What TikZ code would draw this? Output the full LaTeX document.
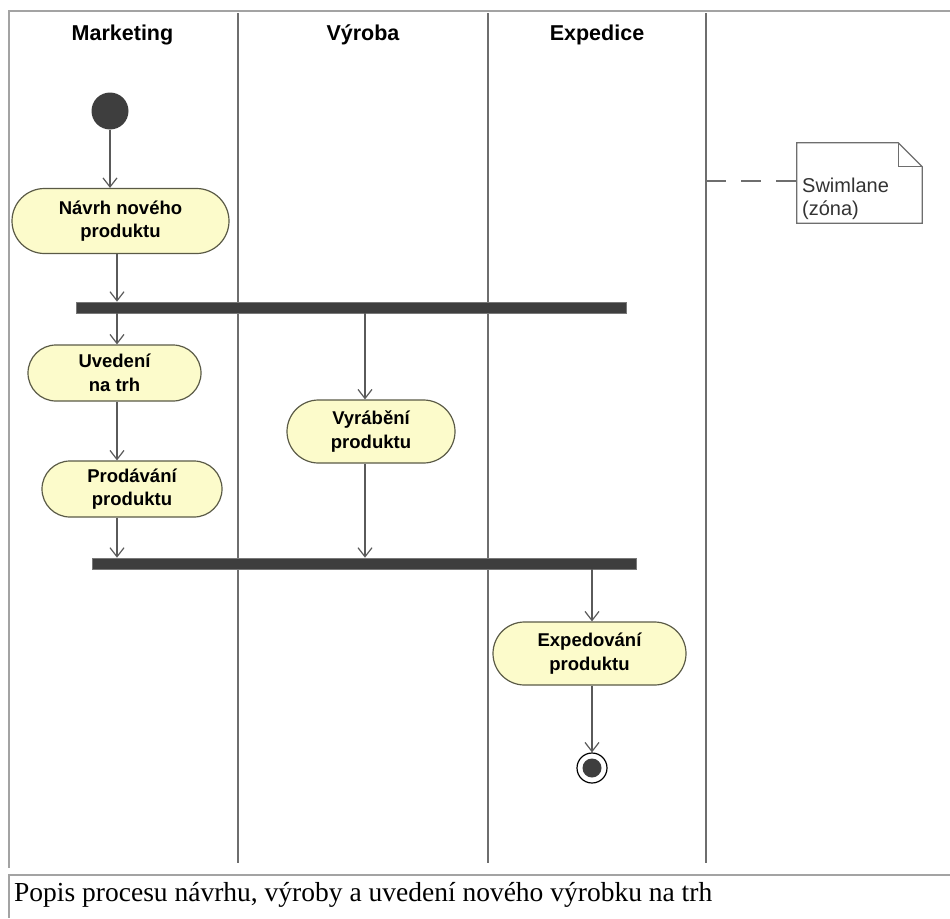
\documentclass[tikz,border=0pt]{standalone}
\usepackage{fontspec}
\setmainfont{Liberation Sans}
\newfontfamily\captionserif{Liberation Serif}
\usetikzlibrary{arrows.meta,calc}

\definecolor{framegray}{HTML}{A3A3A3}
\definecolor{lanegray}{HTML}{6E6E6E}
\definecolor{actfill}{HTML}{FCFBCB}
\definecolor{actdraw}{HTML}{5A5A46}
\definecolor{bardark}{HTML}{3E3E3E}
\definecolor{flowgray}{HTML}{5A5A5A}
\definecolor{notetext}{HTML}{333333}

\begin{document}
\begin{tikzpicture}[x=1pt,y=-1pt,
  activity/.style={draw=actdraw, line width=1.2pt, fill=actfill, inner sep=0pt,
    align=center, font=\bfseries\fontsize{18.5}{23.5}\selectfont},
  syncbar/.style={draw=bardark!70, line width=0.6pt, fill=bardark, inner sep=0pt, minimum height=11pt},
  lanehead/.style={font=\bfseries\fontsize{21.5}{25}\selectfont},
  lanesep/.style={draw=lanegray, line width=1.3pt},
  flow/.style={draw=flowgray, line width=1.2pt,
    -{Straight Barb[length=9pt,width=14pt,line width=1.2pt]}},
  framebar/.style={draw=framegray, line width=2.2pt}]

\useasboundingbox (0,0) rectangle (950,918);

% page frame around the diagram and the caption
\draw[framebar] (8,11) -- (950,11);
\draw[framebar] (9,10) -- (9,868);
\draw[framebar] (8,875) -- (950,875);
\draw[framebar] (9,874) -- (9,918);

% swimlane separators
\draw[lanesep] (238,13) -- (238,863);
\draw[lanesep] (488,13) -- (488,863);
\draw[lanesep] (706,13) -- (706,863);

% lane titles
\node[lanehead] (hmkt) at (122.5,34.5) {Marketing};
\node[lanehead] (hvyr) at (363,34.5) {Výroba};
\node[lanehead] (hexp) at (597,34.5) {Expedice};

% initial node
\node[circle, fill=bardark, minimum size=37pt, inner sep=0pt] (start) at (110,111) {};

% activities
\node[activity, minimum width=217pt, minimum height=65pt, rounded corners=32.5pt]
  (navrh) at (120.5,221) {Návrh nového\\produktu};
\node[activity, minimum width=173pt, minimum height=56pt, rounded corners=28pt]
  (uvedeni) at (114.5,373) {Uvedení\\na trh};
\node[activity, minimum width=180pt, minimum height=56pt, rounded corners=28pt]
  (prodavani) at (132,489) {Prodávání\\produktu};
\node[activity, minimum width=168pt, minimum height=63pt, rounded corners=31.5pt]
  (vyrabeni) at (371,431.5) {Vyrábění\\produktu};
\node[activity, minimum width=193pt, minimum height=63pt, rounded corners=31.5pt]
  (expedovani) at (589.5,653.5) {Expedování\\produktu};

% fork and join bars
\node[syncbar, minimum width=550pt] (fork) at (351,307.5) {};
\node[syncbar, minimum width=544pt] (join) at (364,563.5) {};

% final node
\node[circle, draw=black, line width=1.2pt, fill=white, minimum size=30pt, inner sep=0pt]
  (final) at (592,768) {};
\node[circle, fill=bardark, minimum size=19pt, inner sep=0pt] (finaldot) at (final) {};

% control flows
\coordinate (colA) at (117,0);
\coordinate (colB) at (365,0);
\coordinate (colC) at (592,0);
\draw[flow] (start.south) -- (start.south |- navrh.north);
\draw[flow] (navrh.south -| colA) -- (fork.north -| colA);
\draw[flow] (fork.south -| colA) -- (uvedeni.north -| colA);
\draw[flow] (fork.south -| colB) -- (vyrabeni.north -| colB);
\draw[flow] (uvedeni.south -| colA) -- (prodavani.north -| colA);
\draw[flow] (prodavani.south -| colA) -- (join.north -| colA);
\draw[flow] (vyrabeni.south -| colB) -- (join.north -| colB);
\draw[flow] (join.south -| colC) -- (expedovani.north -| colC);
\draw[flow] (expedovani.south -| colC) -- (final.north -| colC);

% note with folded corner
\node[minimum width=125pt, minimum height=80pt, inner sep=0pt] (note) at (859.5,183) {};
\draw[draw=lanegray, line width=1.2pt, fill=white]
  (note.north west) -- ([xshift=-24pt]note.north east)
  -- ([yshift=-24pt]note.north east) -- (note.south east)
  -- (note.south west) -- cycle;
\draw[draw=lanegray, line width=1.2pt]
  ([xshift=-24pt]note.north east) -- ([xshift=-24pt,yshift=-24pt]note.north east)
  -- ([yshift=-24pt]note.north east);
\node[anchor=west, align=left, text=notetext, inner sep=0pt,
  font=\fontsize{20}{23}\selectfont] (notetxt) at (802,199) {Swimlane\\(zóna)};
\coordinate (laneanchor) at (706,181);
\draw[draw=lanegray, line width=1.2pt, dash pattern=on 20pt off 15pt]
  (laneanchor) -- (note.west |- laneanchor);

% caption
\node[anchor=west, inner sep=0pt, font=\captionserif\fontsize{27.5}{32}\selectfont]
  (caption) at (14,895) {Popis procesu návrhu, výroby a uvedení nového výrobku na trh};

\end{tikzpicture}
\end{document}
